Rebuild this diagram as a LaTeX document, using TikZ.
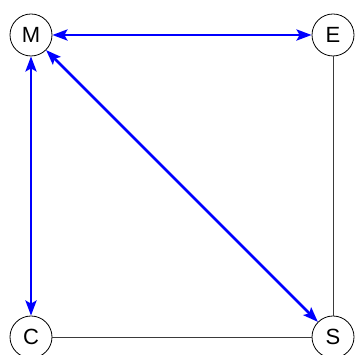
\documentclass[tikz,border=0pt]{standalone}
\usepackage{fontspec}
\setmainfont{Liberation Sans}
\usetikzlibrary{arrows.meta}
\definecolor{linkblue}{HTML}{0000FF}
\definecolor{edgegray}{HTML}{3a3a3a}

\begin{document}
\begin{tikzpicture}[
    x=1pt,y=1pt,
    every node/.style={font=\fontsize{22}{22}\selectfont},
    vertex/.style={
        circle,
        draw=black,
        line width=0.8pt,
        fill=white,
        minimum size=42pt,
        inner sep=0pt,
    },
    mutual/.style={
        {Stealth[length=15pt,width=11pt,inset=3pt]}-{Stealth[length=15pt,width=11pt,inset=3pt]},
        line width=2.8pt,
        color=linkblue,
    },
    plain/.style={-,line width=0.9pt,color=edgegray},
]

% === Frame (vertices are cut by the border) ===
\useasboundingbox (0,0) rectangle (356,355);
\clip (0,0) rectangle (356,355);

% === Vertices ===
\node[vertex] (M) at (31,320) {M};
\node[vertex] (E) at (333,320) {E};
\node[vertex] (C) at (31,18) {C};
\node[vertex] (S) at (333,18) {S};

% === Plain edges ===
\draw[plain] (E) -- (S);
\draw[plain] (C) -- (S);

% === Mutual edges ===
\draw[mutual] (M) -- (E);
\draw[mutual] (M) -- (C);
\draw[mutual] (M) -- (S);

\end{tikzpicture}
\end{document}
